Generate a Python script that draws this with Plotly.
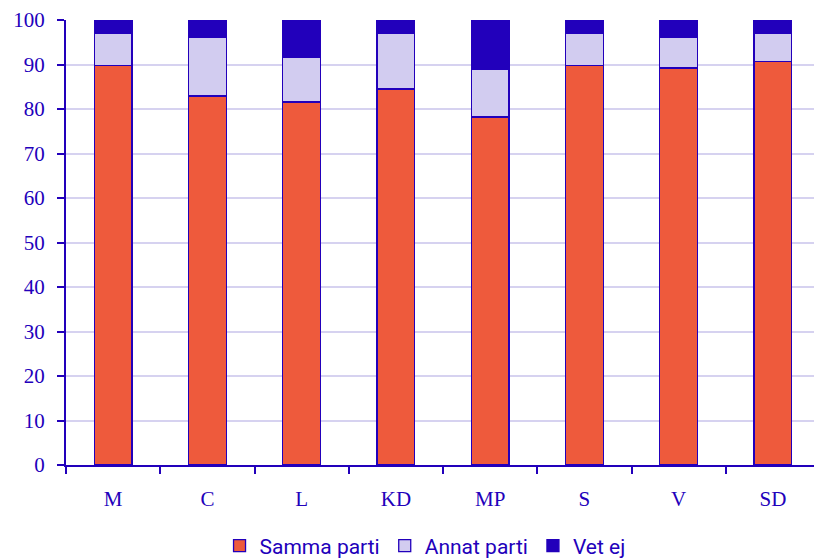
import plotly.graph_objects as go

parties = ["M", "C", "L", "KD", "MP", "S", "V", "SD"]
samma = [89.7, 82.9, 81.6, 84.5, 78.2, 89.7, 89.2, 90.6]
annat = [7.2, 13.1, 10.1, 12.6, 10.8, 7.4, 6.8, 6.5]
vetej = [3.1, 4.0, 8.3, 2.9, 11.0, 2.9, 4.0, 2.9]

BLUE = "#2200BB"
ORANGE = "#EE5A3C"
LIGHT = "#D2CCF0"

fig = go.Figure()
for name, vals, col in [("Samma parti", samma, ORANGE), ("Annat parti", annat, LIGHT), ("Vet ej", vetej, BLUE)]:
    fig.add_trace(go.Bar(x=parties, y=vals, name=name, width=0.4,
                         marker=dict(color=col, line=dict(color=BLUE, width=1.3))))

fig.update_layout(
    barmode="stack",
    width=814, height=558,
    margin=dict(l=66, r=0, t=20, b=93, autoexpand=False),
    plot_bgcolor="white", paper_bgcolor="white",
    legend=dict(orientation="h", traceorder="normal", x=0.48, xanchor="center", y=-0.182, yanchor="middle",
                font=dict(family="Roboto", size=21, color=BLUE), itemwidth=30, tracegroupgap=0),
    xaxis=dict(range=[-0.5, 7.436], showline=True, linecolor=BLUE, linewidth=2, automargin=False,
               ticks="outside", tickson="boundaries", tickcolor=BLUE, ticklen=7, tickwidth=2,
               ticklabelstandoff=14,
               tickfont=dict(family="Liberation Serif", size=21, color=BLUE), showgrid=False),
    yaxis=dict(range=[0, 100], dtick=10, showline=True, linecolor=BLUE, linewidth=2, automargin=False,
               ticks="outside", tickcolor=BLUE, ticklen=7, tickwidth=2, ticklabelstandoff=8,
               gridcolor="#D6D2F0", gridwidth=2,
               tickfont=dict(family="Liberation Serif", size=21, color=BLUE), zeroline=False),
)
fig.write_html("out.html", config={"displayModeBar": False},
               post_script="document.body.style.margin='0';document.body.style.overflow='hidden';")
